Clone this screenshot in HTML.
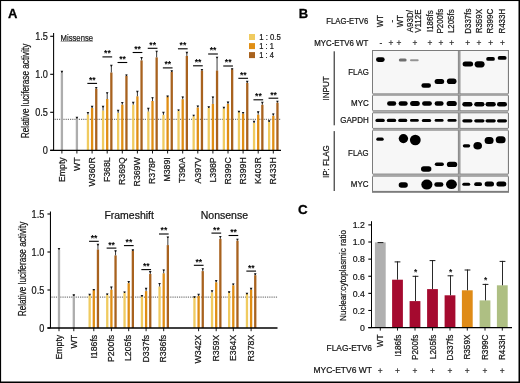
<!DOCTYPE html>
<html><head><meta charset="utf-8"><style>
html,body{margin:0;padding:0;background:#fff;}
svg{display:block;will-change:transform;}
text{font-family:"Liberation Sans", sans-serif;}
</style></head><body>
<svg width="520" height="383" viewBox="0 0 520 383">
<defs><filter id="bl" x="-30%" y="-60%" width="160%" height="220%"><feGaussianBlur stdDeviation="0.6"/></filter></defs>
<rect x="0" y="0" width="520" height="383" fill="#fff"/>
<text x="0" y="0" font-size="13.0" text-anchor="start" fill="#000" transform="translate(8.10 17.90)" font-weight="bold" stroke="#000" stroke-width="0.3">A</text>
<line x1="53.60" y1="33.10" x2="53.60" y2="150.30" stroke="#000" stroke-width="1.05"/>
<line x1="50.20" y1="36.30" x2="53.60" y2="36.30" stroke="#000" stroke-width="1.1"/>
<text x="0" y="0" font-size="10.4" text-anchor="end" fill="#141414" transform="translate(47.90 40.10) scale(0.880 1)" stroke="#141414" stroke-width="0.22">1.5</text>
<line x1="50.20" y1="74.30" x2="53.60" y2="74.30" stroke="#000" stroke-width="1.1"/>
<text x="0" y="0" font-size="10.4" text-anchor="end" fill="#141414" transform="translate(47.90 78.10) scale(0.880 1)" stroke="#141414" stroke-width="0.22">1.0</text>
<line x1="50.20" y1="112.30" x2="53.60" y2="112.30" stroke="#000" stroke-width="1.1"/>
<text x="0" y="0" font-size="10.4" text-anchor="end" fill="#141414" transform="translate(47.90 116.10) scale(0.880 1)" stroke="#141414" stroke-width="0.22">0.5</text>
<line x1="50.20" y1="150.30" x2="53.60" y2="150.30" stroke="#000" stroke-width="1.1"/>
<text x="0" y="0" font-size="10.4" text-anchor="end" fill="#141414" transform="translate(47.90 154.10) scale(0.880 1)" stroke="#141414" stroke-width="0.22">0</text>
<line x1="54.60" y1="119.30" x2="281.00" y2="119.30" stroke="#222" stroke-width="0.75" stroke-dasharray="1.2 1.0"/>
<rect x="60.75" y="73.00" width="2.30" height="77.30" fill="#ADADAD"/>
<line x1="61.90" y1="71.00" x2="61.90" y2="73.00" stroke="#3a3a3a" stroke-width="1.0"/>
<path d="M60.60 70.80 L63.20 70.80 L62.40 72.40 L61.40 72.40Z" fill="#151515"/>
<rect x="75.75" y="118.50" width="2.30" height="31.80" fill="#ADADAD"/>
<line x1="76.90" y1="117.00" x2="76.90" y2="118.50" stroke="#3a3a3a" stroke-width="1.0"/>
<path d="M75.60 116.80 L78.20 116.80 L77.40 118.40 L76.40 118.40Z" fill="#151515"/>
<rect x="86.80" y="114.70" width="2.30" height="35.60" fill="#F0CB60"/>
<line x1="87.95" y1="112.20" x2="87.95" y2="114.70" stroke="#3a3a3a" stroke-width="1.0"/>
<path d="M86.65 112.00 L89.25 112.00 L88.45 113.60 L87.45 113.60Z" fill="#151515"/>
<rect x="90.95" y="108.00" width="2.30" height="42.30" fill="#E08E14"/>
<line x1="92.10" y1="106.00" x2="92.10" y2="108.00" stroke="#3a3a3a" stroke-width="1.0"/>
<path d="M90.80 105.80 L93.40 105.80 L92.60 107.40 L91.60 107.40Z" fill="#151515"/>
<rect x="95.10" y="88.60" width="2.30" height="61.70" fill="#A8621E"/>
<line x1="96.25" y1="87.20" x2="96.25" y2="88.60" stroke="#3a3a3a" stroke-width="1.0"/>
<path d="M94.95 87.00 L97.55 87.00 L96.75 88.60 L95.75 88.60Z" fill="#151515"/>
<line x1="87.35" y1="83.40" x2="97.05" y2="83.40" stroke="#000" stroke-width="1.1"/>
<text x="0" y="0" font-size="8.6" text-anchor="middle" fill="#000" transform="translate(92.30 82.80)" font-weight="bold">**</text>
<rect x="101.90" y="110.50" width="2.30" height="39.80" fill="#F0CB60"/>
<line x1="103.05" y1="106.00" x2="103.05" y2="110.50" stroke="#3a3a3a" stroke-width="1.0"/>
<path d="M101.75 105.80 L104.35 105.80 L103.55 107.40 L102.55 107.40Z" fill="#151515"/>
<rect x="106.05" y="99.00" width="2.30" height="51.30" fill="#E08E14"/>
<line x1="107.20" y1="92.40" x2="107.20" y2="99.00" stroke="#3a3a3a" stroke-width="1.0"/>
<path d="M105.90 92.20 L108.50 92.20 L107.70 93.80 L106.70 93.80Z" fill="#151515"/>
<rect x="110.20" y="72.50" width="2.30" height="77.80" fill="#A8621E"/>
<line x1="111.35" y1="65.00" x2="111.35" y2="72.50" stroke="#3a3a3a" stroke-width="1.0"/>
<path d="M110.05 64.80 L112.65 64.80 L111.85 66.40 L110.85 66.40Z" fill="#151515"/>
<line x1="102.45" y1="56.90" x2="112.15" y2="56.90" stroke="#000" stroke-width="1.1"/>
<text x="0" y="0" font-size="8.6" text-anchor="middle" fill="#000" transform="translate(107.40 56.30)" font-weight="bold">**</text>
<rect x="117.00" y="113.00" width="2.30" height="37.30" fill="#F0CB60"/>
<line x1="118.15" y1="110.00" x2="118.15" y2="113.00" stroke="#3a3a3a" stroke-width="1.0"/>
<path d="M116.85 109.80 L119.45 109.80 L118.65 111.40 L117.65 111.40Z" fill="#151515"/>
<rect x="121.15" y="104.70" width="2.30" height="45.60" fill="#E08E14"/>
<line x1="122.30" y1="102.20" x2="122.30" y2="104.70" stroke="#3a3a3a" stroke-width="1.0"/>
<path d="M121.00 102.00 L123.60 102.00 L122.80 103.60 L121.80 103.60Z" fill="#151515"/>
<rect x="125.30" y="76.00" width="2.30" height="74.30" fill="#A8621E"/>
<line x1="126.45" y1="74.60" x2="126.45" y2="76.00" stroke="#3a3a3a" stroke-width="1.0"/>
<path d="M125.15 74.40 L127.75 74.40 L126.95 76.00 L125.95 76.00Z" fill="#151515"/>
<line x1="117.55" y1="62.50" x2="127.25" y2="62.50" stroke="#000" stroke-width="1.1"/>
<text x="0" y="0" font-size="8.6" text-anchor="middle" fill="#000" transform="translate(122.50 61.90)" font-weight="bold">**</text>
<rect x="132.10" y="104.70" width="2.30" height="45.60" fill="#F0CB60"/>
<line x1="133.25" y1="102.00" x2="133.25" y2="104.70" stroke="#3a3a3a" stroke-width="1.0"/>
<path d="M131.95 101.80 L134.55 101.80 L133.75 103.40 L132.75 103.40Z" fill="#151515"/>
<rect x="136.25" y="96.30" width="2.30" height="54.00" fill="#E08E14"/>
<line x1="137.40" y1="91.00" x2="137.40" y2="96.30" stroke="#3a3a3a" stroke-width="1.0"/>
<path d="M136.10 90.80 L138.70 90.80 L137.90 92.40 L136.90 92.40Z" fill="#151515"/>
<rect x="140.40" y="60.40" width="2.30" height="89.90" fill="#A8621E"/>
<line x1="141.55" y1="57.30" x2="141.55" y2="60.40" stroke="#3a3a3a" stroke-width="1.0"/>
<path d="M140.25 57.10 L142.85 57.10 L142.05 58.70 L141.05 58.70Z" fill="#151515"/>
<line x1="132.65" y1="52.50" x2="142.35" y2="52.50" stroke="#000" stroke-width="1.1"/>
<text x="0" y="0" font-size="8.6" text-anchor="middle" fill="#000" transform="translate(137.60 51.90)" font-weight="bold">**</text>
<rect x="147.20" y="111.50" width="2.30" height="38.80" fill="#F0CB60"/>
<line x1="148.35" y1="108.00" x2="148.35" y2="111.50" stroke="#3a3a3a" stroke-width="1.0"/>
<path d="M147.05 107.80 L149.65 107.80 L148.85 109.40 L147.85 109.40Z" fill="#151515"/>
<rect x="151.35" y="101.00" width="2.30" height="49.30" fill="#E08E14"/>
<line x1="152.50" y1="97.40" x2="152.50" y2="101.00" stroke="#3a3a3a" stroke-width="1.0"/>
<path d="M151.20 97.20 L153.80 97.20 L153.00 98.80 L152.00 98.80Z" fill="#151515"/>
<rect x="155.50" y="57.40" width="2.30" height="92.90" fill="#A8621E"/>
<line x1="156.65" y1="50.90" x2="156.65" y2="57.40" stroke="#3a3a3a" stroke-width="1.0"/>
<path d="M155.35 50.70 L157.95 50.70 L157.15 52.30 L156.15 52.30Z" fill="#151515"/>
<line x1="147.75" y1="48.30" x2="157.45" y2="48.30" stroke="#000" stroke-width="1.1"/>
<text x="0" y="0" font-size="8.6" text-anchor="middle" fill="#000" transform="translate(152.70 47.70)" font-weight="bold">**</text>
<rect x="162.30" y="114.90" width="2.30" height="35.40" fill="#F0CB60"/>
<line x1="163.45" y1="112.00" x2="163.45" y2="114.90" stroke="#3a3a3a" stroke-width="1.0"/>
<path d="M162.15 111.80 L164.75 111.80 L163.95 113.40 L162.95 113.40Z" fill="#151515"/>
<rect x="166.45" y="96.60" width="2.30" height="53.70" fill="#E08E14"/>
<line x1="167.60" y1="95.80" x2="167.60" y2="96.60" stroke="#3a3a3a" stroke-width="1.0"/>
<path d="M166.30 95.60 L168.90 95.60 L168.10 97.20 L167.10 97.20Z" fill="#151515"/>
<rect x="170.60" y="71.80" width="2.30" height="78.50" fill="#A8621E"/>
<line x1="171.75" y1="70.50" x2="171.75" y2="71.80" stroke="#3a3a3a" stroke-width="1.0"/>
<path d="M170.45 70.30 L173.05 70.30 L172.25 71.90 L171.25 71.90Z" fill="#151515"/>
<line x1="162.85" y1="67.90" x2="172.55" y2="67.90" stroke="#000" stroke-width="1.1"/>
<text x="0" y="0" font-size="8.6" text-anchor="middle" fill="#000" transform="translate(167.80 67.30)" font-weight="bold">**</text>
<rect x="177.40" y="111.00" width="2.30" height="39.30" fill="#F0CB60"/>
<line x1="178.55" y1="109.60" x2="178.55" y2="111.00" stroke="#3a3a3a" stroke-width="1.0"/>
<path d="M177.25 109.40 L179.85 109.40 L179.05 111.00 L178.05 111.00Z" fill="#151515"/>
<rect x="181.55" y="99.20" width="2.30" height="51.10" fill="#E08E14"/>
<line x1="182.70" y1="96.60" x2="182.70" y2="99.20" stroke="#3a3a3a" stroke-width="1.0"/>
<path d="M181.40 96.40 L184.00 96.40 L183.20 98.00 L182.20 98.00Z" fill="#151515"/>
<rect x="185.70" y="56.00" width="2.30" height="94.30" fill="#A8621E"/>
<line x1="186.85" y1="52.00" x2="186.85" y2="56.00" stroke="#3a3a3a" stroke-width="1.0"/>
<path d="M185.55 51.80 L188.15 51.80 L187.35 53.40 L186.35 53.40Z" fill="#151515"/>
<line x1="177.95" y1="48.80" x2="187.65" y2="48.80" stroke="#000" stroke-width="1.1"/>
<text x="0" y="0" font-size="8.6" text-anchor="middle" fill="#000" transform="translate(182.90 48.20)" font-weight="bold">**</text>
<rect x="192.50" y="116.20" width="2.30" height="34.10" fill="#F0CB60"/>
<line x1="193.65" y1="114.90" x2="193.65" y2="116.20" stroke="#3a3a3a" stroke-width="1.0"/>
<path d="M192.35 114.70 L194.95 114.70 L194.15 116.30 L193.15 116.30Z" fill="#151515"/>
<rect x="196.65" y="107.50" width="2.30" height="42.80" fill="#E08E14"/>
<line x1="197.80" y1="105.70" x2="197.80" y2="107.50" stroke="#3a3a3a" stroke-width="1.0"/>
<path d="M196.50 105.50 L199.10 105.50 L198.30 107.10 L197.30 107.10Z" fill="#151515"/>
<rect x="200.80" y="70.50" width="2.30" height="79.80" fill="#A8621E"/>
<line x1="201.95" y1="69.20" x2="201.95" y2="70.50" stroke="#3a3a3a" stroke-width="1.0"/>
<path d="M200.65 69.00 L203.25 69.00 L202.45 70.60 L201.45 70.60Z" fill="#151515"/>
<line x1="193.05" y1="65.80" x2="202.75" y2="65.80" stroke="#000" stroke-width="1.1"/>
<text x="0" y="0" font-size="8.6" text-anchor="middle" fill="#000" transform="translate(198.00 65.20)" font-weight="bold">**</text>
<rect x="207.60" y="107.80" width="2.30" height="42.50" fill="#F0CB60"/>
<line x1="208.75" y1="106.50" x2="208.75" y2="107.80" stroke="#3a3a3a" stroke-width="1.0"/>
<path d="M207.45 106.30 L210.05 106.30 L209.25 107.90 L208.25 107.90Z" fill="#151515"/>
<rect x="211.75" y="103.90" width="2.30" height="46.40" fill="#E08E14"/>
<line x1="212.90" y1="96.60" x2="212.90" y2="103.90" stroke="#3a3a3a" stroke-width="1.0"/>
<path d="M211.60 96.40 L214.20 96.40 L213.40 98.00 L212.40 98.00Z" fill="#151515"/>
<rect x="215.90" y="70.50" width="2.30" height="79.80" fill="#A8621E"/>
<line x1="217.05" y1="56.90" x2="217.05" y2="70.50" stroke="#3a3a3a" stroke-width="1.0"/>
<path d="M215.75 56.70 L218.35 56.70 L217.55 58.30 L216.55 58.30Z" fill="#151515"/>
<line x1="208.15" y1="54.00" x2="217.85" y2="54.00" stroke="#000" stroke-width="1.1"/>
<text x="0" y="0" font-size="8.6" text-anchor="middle" fill="#000" transform="translate(213.10 53.40)" font-weight="bold">**</text>
<rect x="222.70" y="108.30" width="2.30" height="42.00" fill="#F0CB60"/>
<line x1="223.85" y1="107.00" x2="223.85" y2="108.30" stroke="#3a3a3a" stroke-width="1.0"/>
<path d="M222.55 106.80 L225.15 106.80 L224.35 108.40 L223.35 108.40Z" fill="#151515"/>
<rect x="226.85" y="103.90" width="2.30" height="46.40" fill="#E08E14"/>
<line x1="228.00" y1="101.80" x2="228.00" y2="103.90" stroke="#3a3a3a" stroke-width="1.0"/>
<path d="M226.70 101.60 L229.30 101.60 L228.50 103.20 L227.50 103.20Z" fill="#151515"/>
<rect x="231.00" y="69.20" width="2.30" height="81.10" fill="#A8621E"/>
<line x1="232.15" y1="68.40" x2="232.15" y2="69.20" stroke="#3a3a3a" stroke-width="1.0"/>
<path d="M230.85 68.20 L233.45 68.20 L232.65 69.80 L231.65 69.80Z" fill="#151515"/>
<line x1="223.25" y1="66.00" x2="232.95" y2="66.00" stroke="#000" stroke-width="1.1"/>
<text x="0" y="0" font-size="8.6" text-anchor="middle" fill="#000" transform="translate(228.20 65.40)" font-weight="bold">**</text>
<rect x="237.80" y="112.20" width="2.30" height="38.10" fill="#F0CB60"/>
<line x1="238.95" y1="111.00" x2="238.95" y2="112.20" stroke="#3a3a3a" stroke-width="1.0"/>
<path d="M237.65 110.80 L240.25 110.80 L239.45 112.40 L238.45 112.40Z" fill="#151515"/>
<rect x="241.95" y="113.60" width="2.30" height="36.70" fill="#E08E14"/>
<line x1="243.10" y1="112.20" x2="243.10" y2="113.60" stroke="#3a3a3a" stroke-width="1.0"/>
<path d="M241.80 112.00 L244.40 112.00 L243.60 113.60 L242.60 113.60Z" fill="#151515"/>
<rect x="246.10" y="82.90" width="2.30" height="67.40" fill="#A8621E"/>
<line x1="247.25" y1="81.00" x2="247.25" y2="82.90" stroke="#3a3a3a" stroke-width="1.0"/>
<path d="M245.95 80.80 L248.55 80.80 L247.75 82.40 L246.75 82.40Z" fill="#151515"/>
<line x1="238.35" y1="78.30" x2="248.05" y2="78.30" stroke="#000" stroke-width="1.1"/>
<text x="0" y="0" font-size="8.6" text-anchor="middle" fill="#000" transform="translate(243.30 77.70)" font-weight="bold">**</text>
<rect x="252.90" y="123.00" width="2.30" height="27.30" fill="#F0CB60"/>
<line x1="254.05" y1="121.00" x2="254.05" y2="123.00" stroke="#3a3a3a" stroke-width="1.0"/>
<path d="M252.75 120.80 L255.35 120.80 L254.55 122.40 L253.55 122.40Z" fill="#151515"/>
<rect x="257.05" y="114.70" width="2.30" height="35.60" fill="#E08E14"/>
<line x1="258.20" y1="111.50" x2="258.20" y2="114.70" stroke="#3a3a3a" stroke-width="1.0"/>
<path d="M256.90 111.30 L259.50 111.30 L258.70 112.90 L257.70 112.90Z" fill="#151515"/>
<rect x="261.20" y="104.80" width="2.30" height="45.50" fill="#A8621E"/>
<line x1="262.35" y1="102.00" x2="262.35" y2="104.80" stroke="#3a3a3a" stroke-width="1.0"/>
<path d="M261.05 101.80 L263.65 101.80 L262.85 103.40 L261.85 103.40Z" fill="#151515"/>
<line x1="253.45" y1="99.80" x2="263.15" y2="99.80" stroke="#000" stroke-width="1.1"/>
<text x="0" y="0" font-size="8.6" text-anchor="middle" fill="#000" transform="translate(258.40 99.20)" font-weight="bold">**</text>
<rect x="268.00" y="121.70" width="2.30" height="28.60" fill="#F0CB60"/>
<line x1="269.15" y1="120.50" x2="269.15" y2="121.70" stroke="#3a3a3a" stroke-width="1.0"/>
<path d="M267.85 120.30 L270.45 120.30 L269.65 121.90 L268.65 121.90Z" fill="#151515"/>
<rect x="272.15" y="115.80" width="2.30" height="34.50" fill="#E08E14"/>
<line x1="273.30" y1="113.60" x2="273.30" y2="115.80" stroke="#3a3a3a" stroke-width="1.0"/>
<path d="M272.00 113.40 L274.60 113.40 L273.80 115.00 L272.80 115.00Z" fill="#151515"/>
<rect x="276.30" y="102.60" width="2.30" height="47.70" fill="#A8621E"/>
<line x1="277.45" y1="100.90" x2="277.45" y2="102.60" stroke="#3a3a3a" stroke-width="1.0"/>
<path d="M276.15 100.70 L278.75 100.70 L277.95 102.30 L276.95 102.30Z" fill="#151515"/>
<line x1="268.55" y1="98.20" x2="278.25" y2="98.20" stroke="#000" stroke-width="1.1"/>
<text x="0" y="0" font-size="8.6" text-anchor="middle" fill="#000" transform="translate(273.50 97.60)" font-weight="bold">**</text>
<line x1="50.20" y1="150.30" x2="281.00" y2="150.30" stroke="#000" stroke-width="1.35"/>
<line x1="61.90" y1="150.30" x2="61.90" y2="153.50" stroke="#000" stroke-width="0.9"/>
<line x1="76.90" y1="150.30" x2="76.90" y2="153.50" stroke="#000" stroke-width="0.9"/>
<line x1="92.10" y1="150.30" x2="92.10" y2="153.50" stroke="#000" stroke-width="0.9"/>
<line x1="107.20" y1="150.30" x2="107.20" y2="153.50" stroke="#000" stroke-width="0.9"/>
<line x1="122.30" y1="150.30" x2="122.30" y2="153.50" stroke="#000" stroke-width="0.9"/>
<line x1="137.40" y1="150.30" x2="137.40" y2="153.50" stroke="#000" stroke-width="0.9"/>
<line x1="152.50" y1="150.30" x2="152.50" y2="153.50" stroke="#000" stroke-width="0.9"/>
<line x1="167.60" y1="150.30" x2="167.60" y2="153.50" stroke="#000" stroke-width="0.9"/>
<line x1="182.70" y1="150.30" x2="182.70" y2="153.50" stroke="#000" stroke-width="0.9"/>
<line x1="197.80" y1="150.30" x2="197.80" y2="153.50" stroke="#000" stroke-width="0.9"/>
<line x1="212.90" y1="150.30" x2="212.90" y2="153.50" stroke="#000" stroke-width="0.9"/>
<line x1="228.00" y1="150.30" x2="228.00" y2="153.50" stroke="#000" stroke-width="0.9"/>
<line x1="243.10" y1="150.30" x2="243.10" y2="153.50" stroke="#000" stroke-width="0.9"/>
<line x1="258.20" y1="150.30" x2="258.20" y2="153.50" stroke="#000" stroke-width="0.9"/>
<line x1="273.30" y1="150.30" x2="273.30" y2="153.50" stroke="#000" stroke-width="0.9"/>
<text x="0" y="0" font-size="9.2" text-anchor="end" fill="#141414" transform="translate(64.65 157.30) rotate(-90) scale(0.950 1)" stroke="#141414" stroke-width="0.22">Empty</text>
<text x="0" y="0" font-size="9.2" text-anchor="end" fill="#141414" transform="translate(79.65 157.30) rotate(-90) scale(0.950 1)" stroke="#141414" stroke-width="0.22">WT</text>
<text x="0" y="0" font-size="9.2" text-anchor="end" fill="#141414" transform="translate(94.85 157.30) rotate(-90) scale(0.950 1)" stroke="#141414" stroke-width="0.22">W360R</text>
<text x="0" y="0" font-size="9.2" text-anchor="end" fill="#141414" transform="translate(109.95 157.30) rotate(-90) scale(0.950 1)" stroke="#141414" stroke-width="0.22">F368L</text>
<text x="0" y="0" font-size="9.2" text-anchor="end" fill="#141414" transform="translate(125.05 157.30) rotate(-90) scale(0.950 1)" stroke="#141414" stroke-width="0.22">R369Q</text>
<text x="0" y="0" font-size="9.2" text-anchor="end" fill="#141414" transform="translate(140.15 157.30) rotate(-90) scale(0.950 1)" stroke="#141414" stroke-width="0.22">R369W</text>
<text x="0" y="0" font-size="9.2" text-anchor="end" fill="#141414" transform="translate(155.25 157.30) rotate(-90) scale(0.950 1)" stroke="#141414" stroke-width="0.22">R378P</text>
<text x="0" y="0" font-size="9.2" text-anchor="end" fill="#141414" transform="translate(170.35 157.30) rotate(-90) scale(0.950 1)" stroke="#141414" stroke-width="0.22">M389I</text>
<text x="0" y="0" font-size="9.2" text-anchor="end" fill="#141414" transform="translate(185.45 157.30) rotate(-90) scale(0.950 1)" stroke="#141414" stroke-width="0.22">T390A</text>
<text x="0" y="0" font-size="9.2" text-anchor="end" fill="#141414" transform="translate(200.55 157.30) rotate(-90) scale(0.950 1)" stroke="#141414" stroke-width="0.22">A397V</text>
<text x="0" y="0" font-size="9.2" text-anchor="end" fill="#141414" transform="translate(215.65 157.30) rotate(-90) scale(0.950 1)" stroke="#141414" stroke-width="0.22">L398P</text>
<text x="0" y="0" font-size="9.2" text-anchor="end" fill="#141414" transform="translate(230.75 157.30) rotate(-90) scale(0.950 1)" stroke="#141414" stroke-width="0.22">R399C</text>
<text x="0" y="0" font-size="9.2" text-anchor="end" fill="#141414" transform="translate(245.85 157.30) rotate(-90) scale(0.950 1)" stroke="#141414" stroke-width="0.22">R399H</text>
<text x="0" y="0" font-size="9.2" text-anchor="end" fill="#141414" transform="translate(260.95 157.30) rotate(-90) scale(0.950 1)" stroke="#141414" stroke-width="0.22">K403R</text>
<text x="0" y="0" font-size="9.2" text-anchor="end" fill="#141414" transform="translate(276.05 157.30) rotate(-90) scale(0.950 1)" stroke="#141414" stroke-width="0.22">R433H</text>
<text x="0" y="0" font-size="10.4" text-anchor="middle" fill="#141414" transform="translate(28.80 90.90) rotate(-90)" stroke="#141414" stroke-width="0.22" textLength="94.50" lengthAdjust="spacingAndGlyphs">Relative luciferase activity</text>
<text x="0" y="0" font-size="9.4" text-anchor="start" fill="#141414" transform="translate(60.60 40.80)" stroke="#141414" stroke-width="0.22" textLength="32.40" lengthAdjust="spacingAndGlyphs">Missense</text>
<line x1="60.60" y1="41.50" x2="93.00" y2="41.50" stroke="#777" stroke-width="0.6"/>
<rect x="249.00" y="34.00" width="6.00" height="6.00" fill="#F0CB60"/>
<text x="0" y="0" font-size="8.6" text-anchor="start" fill="#141414" transform="translate(259.30 39.80)" stroke="#141414" stroke-width="0.22" textLength="21.50" lengthAdjust="spacingAndGlyphs">1 : 0.5</text>
<rect x="249.00" y="43.10" width="6.00" height="6.00" fill="#E08E14"/>
<text x="0" y="0" font-size="8.6" text-anchor="start" fill="#141414" transform="translate(259.30 48.80)" stroke="#141414" stroke-width="0.22" textLength="14.50" lengthAdjust="spacingAndGlyphs">1 : 1</text>
<rect x="249.00" y="52.10" width="6.00" height="6.00" fill="#A8621E"/>
<text x="0" y="0" font-size="8.6" text-anchor="start" fill="#141414" transform="translate(259.30 57.80)" stroke="#141414" stroke-width="0.22" textLength="14.50" lengthAdjust="spacingAndGlyphs">1 : 4</text>
<line x1="50.45" y1="211.50" x2="50.45" y2="328.00" stroke="#000" stroke-width="1.05"/>
<line x1="47.45" y1="214.00" x2="50.45" y2="214.00" stroke="#000" stroke-width="1.1"/>
<text x="0" y="0" font-size="10.4" text-anchor="end" fill="#141414" transform="translate(44.30 217.80) scale(0.880 1)" stroke="#141414" stroke-width="0.22">1.5</text>
<line x1="47.45" y1="252.00" x2="50.45" y2="252.00" stroke="#000" stroke-width="1.1"/>
<text x="0" y="0" font-size="10.4" text-anchor="end" fill="#141414" transform="translate(44.30 255.80) scale(0.880 1)" stroke="#141414" stroke-width="0.22">1.0</text>
<line x1="47.45" y1="290.00" x2="50.45" y2="290.00" stroke="#000" stroke-width="1.1"/>
<text x="0" y="0" font-size="10.4" text-anchor="end" fill="#141414" transform="translate(44.30 293.80) scale(0.880 1)" stroke="#141414" stroke-width="0.22">0.5</text>
<line x1="47.45" y1="328.00" x2="50.45" y2="328.00" stroke="#000" stroke-width="1.1"/>
<text x="0" y="0" font-size="10.4" text-anchor="end" fill="#141414" transform="translate(44.30 331.80) scale(0.880 1)" stroke="#141414" stroke-width="0.22">0</text>
<line x1="51.45" y1="297.10" x2="277.50" y2="297.10" stroke="#222" stroke-width="0.75" stroke-dasharray="1.2 1.0"/>
<rect x="57.85" y="250.00" width="2.30" height="78.00" fill="#ADADAD"/>
<line x1="59.00" y1="248.10" x2="59.00" y2="250.00" stroke="#3a3a3a" stroke-width="1.0"/>
<path d="M57.70 247.90 L60.30 247.90 L59.50 249.50 L58.50 249.50Z" fill="#151515"/>
<rect x="72.65" y="295.00" width="2.30" height="33.00" fill="#ADADAD"/>
<line x1="73.80" y1="294.50" x2="73.80" y2="295.00" stroke="#3a3a3a" stroke-width="1.0"/>
<path d="M72.50 294.30 L75.10 294.30 L74.30 295.90 L73.30 295.90Z" fill="#151515"/>
<rect x="88.50" y="295.20" width="2.30" height="32.80" fill="#F0CB60"/>
<line x1="89.65" y1="294.00" x2="89.65" y2="295.20" stroke="#3a3a3a" stroke-width="1.0"/>
<path d="M88.35 293.80 L90.95 293.80 L90.15 295.40 L89.15 295.40Z" fill="#151515"/>
<rect x="92.65" y="289.70" width="2.30" height="38.30" fill="#E08E14"/>
<line x1="93.80" y1="289.10" x2="93.80" y2="289.70" stroke="#3a3a3a" stroke-width="1.0"/>
<path d="M92.50 288.90 L95.10 288.90 L94.30 290.50 L93.30 290.50Z" fill="#151515"/>
<rect x="96.80" y="249.50" width="2.30" height="78.50" fill="#A8621E"/>
<line x1="97.95" y1="244.00" x2="97.95" y2="249.50" stroke="#3a3a3a" stroke-width="1.0"/>
<path d="M96.65 243.80 L99.25 243.80 L98.45 245.40 L97.45 245.40Z" fill="#151515"/>
<line x1="89.05" y1="241.30" x2="98.75" y2="241.30" stroke="#000" stroke-width="1.1"/>
<text x="0" y="0" font-size="8.6" text-anchor="middle" fill="#000" transform="translate(94.00 240.70)" font-weight="bold">**</text>
<rect x="106.10" y="295.00" width="2.30" height="33.00" fill="#F0CB60"/>
<line x1="107.25" y1="293.60" x2="107.25" y2="295.00" stroke="#3a3a3a" stroke-width="1.0"/>
<path d="M105.95 293.40 L108.55 293.40 L107.75 295.00 L106.75 295.00Z" fill="#151515"/>
<rect x="110.25" y="289.70" width="2.30" height="38.30" fill="#E08E14"/>
<line x1="111.40" y1="286.80" x2="111.40" y2="289.70" stroke="#3a3a3a" stroke-width="1.0"/>
<path d="M110.10 286.60 L112.70 286.60 L111.90 288.20 L110.90 288.20Z" fill="#151515"/>
<rect x="114.40" y="255.40" width="2.30" height="72.60" fill="#A8621E"/>
<line x1="115.55" y1="250.50" x2="115.55" y2="255.40" stroke="#3a3a3a" stroke-width="1.0"/>
<path d="M114.25 250.30 L116.85 250.30 L116.05 251.90 L115.05 251.90Z" fill="#151515"/>
<line x1="106.65" y1="248.10" x2="116.35" y2="248.10" stroke="#000" stroke-width="1.1"/>
<text x="0" y="0" font-size="8.6" text-anchor="middle" fill="#000" transform="translate(111.60 247.50)" font-weight="bold">**</text>
<rect x="123.40" y="292.60" width="2.30" height="35.40" fill="#F0CB60"/>
<line x1="124.55" y1="291.70" x2="124.55" y2="292.60" stroke="#3a3a3a" stroke-width="1.0"/>
<path d="M123.25 291.50 L125.85 291.50 L125.05 293.10 L124.05 293.10Z" fill="#151515"/>
<rect x="127.55" y="283.20" width="2.30" height="44.80" fill="#E08E14"/>
<line x1="128.70" y1="281.30" x2="128.70" y2="283.20" stroke="#3a3a3a" stroke-width="1.0"/>
<path d="M127.40 281.10 L130.00 281.10 L129.20 282.70 L128.20 282.70Z" fill="#151515"/>
<rect x="131.70" y="250.50" width="2.30" height="77.50" fill="#A8621E"/>
<line x1="132.85" y1="249.50" x2="132.85" y2="250.50" stroke="#3a3a3a" stroke-width="1.0"/>
<path d="M131.55 249.30 L134.15 249.30 L133.35 250.90 L132.35 250.90Z" fill="#151515"/>
<line x1="123.95" y1="245.60" x2="133.65" y2="245.60" stroke="#000" stroke-width="1.1"/>
<text x="0" y="0" font-size="8.6" text-anchor="middle" fill="#000" transform="translate(128.90 245.00)" font-weight="bold">**</text>
<rect x="140.80" y="296.40" width="2.30" height="31.60" fill="#F0CB60"/>
<line x1="141.95" y1="295.30" x2="141.95" y2="296.40" stroke="#3a3a3a" stroke-width="1.0"/>
<path d="M140.65 295.10 L143.25 295.10 L142.45 296.70 L141.45 296.70Z" fill="#151515"/>
<rect x="144.95" y="291.10" width="2.30" height="36.90" fill="#E08E14"/>
<line x1="146.10" y1="288.00" x2="146.10" y2="291.10" stroke="#3a3a3a" stroke-width="1.0"/>
<path d="M144.80 287.80 L147.40 287.80 L146.60 289.40 L145.60 289.40Z" fill="#151515"/>
<rect x="149.10" y="274.00" width="2.30" height="54.00" fill="#A8621E"/>
<line x1="150.25" y1="271.30" x2="150.25" y2="274.00" stroke="#3a3a3a" stroke-width="1.0"/>
<path d="M148.95 271.10 L151.55 271.10 L150.75 272.70 L149.75 272.70Z" fill="#151515"/>
<line x1="141.35" y1="269.60" x2="151.05" y2="269.60" stroke="#000" stroke-width="1.1"/>
<text x="0" y="0" font-size="8.6" text-anchor="middle" fill="#000" transform="translate(146.30 269.00)" font-weight="bold">**</text>
<rect x="158.40" y="286.50" width="2.30" height="41.50" fill="#F0CB60"/>
<line x1="159.55" y1="283.20" x2="159.55" y2="286.50" stroke="#3a3a3a" stroke-width="1.0"/>
<path d="M158.25 283.00 L160.85 283.00 L160.05 284.60 L159.05 284.60Z" fill="#151515"/>
<rect x="162.55" y="273.30" width="2.30" height="54.70" fill="#E08E14"/>
<line x1="163.70" y1="269.60" x2="163.70" y2="273.30" stroke="#3a3a3a" stroke-width="1.0"/>
<path d="M162.40 269.40 L165.00 269.40 L164.20 271.00 L163.20 271.00Z" fill="#151515"/>
<rect x="166.70" y="245.10" width="2.30" height="82.90" fill="#A8621E"/>
<line x1="167.85" y1="236.70" x2="167.85" y2="245.10" stroke="#3a3a3a" stroke-width="1.0"/>
<path d="M166.55 236.50 L169.15 236.50 L168.35 238.10 L167.35 238.10Z" fill="#151515"/>
<line x1="158.95" y1="234.00" x2="168.65" y2="234.00" stroke="#000" stroke-width="1.1"/>
<text x="0" y="0" font-size="8.6" text-anchor="middle" fill="#000" transform="translate(163.90 233.40)" font-weight="bold">**</text>
<rect x="193.30" y="297.20" width="2.30" height="30.80" fill="#F0CB60"/>
<line x1="194.45" y1="296.50" x2="194.45" y2="297.20" stroke="#3a3a3a" stroke-width="1.0"/>
<path d="M193.15 296.30 L195.75 296.30 L194.95 297.90 L193.95 297.90Z" fill="#151515"/>
<rect x="197.45" y="295.80" width="2.30" height="32.20" fill="#E08E14"/>
<line x1="198.60" y1="294.00" x2="198.60" y2="295.80" stroke="#3a3a3a" stroke-width="1.0"/>
<path d="M197.30 293.80 L199.90 293.80 L199.10 295.40 L198.10 295.40Z" fill="#151515"/>
<rect x="201.60" y="271.10" width="2.30" height="56.90" fill="#A8621E"/>
<line x1="202.75" y1="268.40" x2="202.75" y2="271.10" stroke="#3a3a3a" stroke-width="1.0"/>
<path d="M201.45 268.20 L204.05 268.20 L203.25 269.80 L202.25 269.80Z" fill="#151515"/>
<line x1="193.85" y1="265.30" x2="203.55" y2="265.30" stroke="#000" stroke-width="1.1"/>
<text x="0" y="0" font-size="8.6" text-anchor="middle" fill="#000" transform="translate(198.80 264.70)" font-weight="bold">**</text>
<rect x="210.90" y="292.50" width="2.30" height="35.50" fill="#F0CB60"/>
<line x1="212.05" y1="290.40" x2="212.05" y2="292.50" stroke="#3a3a3a" stroke-width="1.0"/>
<path d="M210.75 290.20 L213.35 290.20 L212.55 291.80 L211.55 291.80Z" fill="#151515"/>
<rect x="215.05" y="282.30" width="2.30" height="45.70" fill="#E08E14"/>
<line x1="216.20" y1="280.30" x2="216.20" y2="282.30" stroke="#3a3a3a" stroke-width="1.0"/>
<path d="M214.90 280.10 L217.50 280.10 L216.70 281.70 L215.70 281.70Z" fill="#151515"/>
<rect x="219.20" y="238.90" width="2.30" height="89.10" fill="#A8621E"/>
<line x1="220.35" y1="236.20" x2="220.35" y2="238.90" stroke="#3a3a3a" stroke-width="1.0"/>
<path d="M219.05 236.00 L221.65 236.00 L220.85 237.60 L219.85 237.60Z" fill="#151515"/>
<line x1="211.45" y1="233.10" x2="221.15" y2="233.10" stroke="#000" stroke-width="1.1"/>
<text x="0" y="0" font-size="8.6" text-anchor="middle" fill="#000" transform="translate(216.40 232.50)" font-weight="bold">**</text>
<rect x="228.00" y="292.50" width="2.30" height="35.50" fill="#F0CB60"/>
<line x1="229.15" y1="291.50" x2="229.15" y2="292.50" stroke="#3a3a3a" stroke-width="1.0"/>
<path d="M227.85 291.30 L230.45 291.30 L229.65 292.90 L228.65 292.90Z" fill="#151515"/>
<rect x="232.15" y="285.30" width="2.30" height="42.70" fill="#E08E14"/>
<line x1="233.30" y1="283.60" x2="233.30" y2="285.30" stroke="#3a3a3a" stroke-width="1.0"/>
<path d="M232.00 283.40 L234.60 283.40 L233.80 285.00 L232.80 285.00Z" fill="#151515"/>
<rect x="236.30" y="240.60" width="2.30" height="87.40" fill="#A8621E"/>
<line x1="237.45" y1="238.90" x2="237.45" y2="240.60" stroke="#3a3a3a" stroke-width="1.0"/>
<path d="M236.15 238.70 L238.75 238.70 L237.95 240.30 L236.95 240.30Z" fill="#151515"/>
<line x1="228.55" y1="235.50" x2="238.25" y2="235.50" stroke="#000" stroke-width="1.1"/>
<text x="0" y="0" font-size="8.6" text-anchor="middle" fill="#000" transform="translate(233.50 234.90)" font-weight="bold">**</text>
<rect x="245.80" y="293.80" width="2.30" height="34.20" fill="#F0CB60"/>
<line x1="246.95" y1="293.00" x2="246.95" y2="293.80" stroke="#3a3a3a" stroke-width="1.0"/>
<path d="M245.65 292.80 L248.25 292.80 L247.45 294.40 L246.45 294.40Z" fill="#151515"/>
<rect x="249.95" y="289.70" width="2.30" height="38.30" fill="#E08E14"/>
<line x1="251.10" y1="288.00" x2="251.10" y2="289.70" stroke="#3a3a3a" stroke-width="1.0"/>
<path d="M249.80 287.80 L252.40 287.80 L251.60 289.40 L250.60 289.40Z" fill="#151515"/>
<rect x="254.10" y="275.20" width="2.30" height="52.80" fill="#A8621E"/>
<line x1="255.25" y1="273.50" x2="255.25" y2="275.20" stroke="#3a3a3a" stroke-width="1.0"/>
<path d="M253.95 273.30 L256.55 273.30 L255.75 274.90 L254.75 274.90Z" fill="#151515"/>
<line x1="246.35" y1="271.10" x2="256.05" y2="271.10" stroke="#000" stroke-width="1.1"/>
<text x="0" y="0" font-size="8.6" text-anchor="middle" fill="#000" transform="translate(251.30 270.50)" font-weight="bold">**</text>
<line x1="47.45" y1="328.00" x2="277.50" y2="328.00" stroke="#000" stroke-width="1.35"/>
<line x1="59.00" y1="328.00" x2="59.00" y2="331.20" stroke="#000" stroke-width="0.9"/>
<line x1="73.80" y1="328.00" x2="73.80" y2="331.20" stroke="#000" stroke-width="0.9"/>
<line x1="93.80" y1="328.00" x2="93.80" y2="331.20" stroke="#000" stroke-width="0.9"/>
<line x1="111.40" y1="328.00" x2="111.40" y2="331.20" stroke="#000" stroke-width="0.9"/>
<line x1="128.70" y1="328.00" x2="128.70" y2="331.20" stroke="#000" stroke-width="0.9"/>
<line x1="146.10" y1="328.00" x2="146.10" y2="331.20" stroke="#000" stroke-width="0.9"/>
<line x1="163.70" y1="328.00" x2="163.70" y2="331.20" stroke="#000" stroke-width="0.9"/>
<line x1="198.60" y1="328.00" x2="198.60" y2="331.20" stroke="#000" stroke-width="0.9"/>
<line x1="216.20" y1="328.00" x2="216.20" y2="331.20" stroke="#000" stroke-width="0.9"/>
<line x1="233.30" y1="328.00" x2="233.30" y2="331.20" stroke="#000" stroke-width="0.9"/>
<line x1="251.10" y1="328.00" x2="251.10" y2="331.20" stroke="#000" stroke-width="0.9"/>
<text x="0" y="0" font-size="9.2" text-anchor="end" fill="#141414" transform="translate(61.75 334.80) rotate(-90) scale(0.950 1)" stroke="#141414" stroke-width="0.22">Empty</text>
<text x="0" y="0" font-size="9.2" text-anchor="end" fill="#141414" transform="translate(76.55 334.80) rotate(-90) scale(0.950 1)" stroke="#141414" stroke-width="0.22">WT</text>
<text x="0" y="0" font-size="9.2" text-anchor="end" fill="#141414" transform="translate(96.55 334.80) rotate(-90) scale(0.950 1)" stroke="#141414" stroke-width="0.22">I186fs</text>
<text x="0" y="0" font-size="9.2" text-anchor="end" fill="#141414" transform="translate(114.15 334.80) rotate(-90) scale(0.950 1)" stroke="#141414" stroke-width="0.22">P200fs</text>
<text x="0" y="0" font-size="9.2" text-anchor="end" fill="#141414" transform="translate(131.45 334.80) rotate(-90) scale(0.950 1)" stroke="#141414" stroke-width="0.22">L205fs</text>
<text x="0" y="0" font-size="9.2" text-anchor="end" fill="#141414" transform="translate(148.85 334.80) rotate(-90) scale(0.950 1)" stroke="#141414" stroke-width="0.22">D337fs</text>
<text x="0" y="0" font-size="9.2" text-anchor="end" fill="#141414" transform="translate(166.45 334.80) rotate(-90) scale(0.950 1)" stroke="#141414" stroke-width="0.22">R386fs</text>
<text x="0" y="0" font-size="9.2" text-anchor="end" fill="#141414" transform="translate(201.35 334.80) rotate(-90) scale(0.950 1)" stroke="#141414" stroke-width="0.22">W342X</text>
<text x="0" y="0" font-size="9.2" text-anchor="end" fill="#141414" transform="translate(218.95 334.80) rotate(-90) scale(0.950 1)" stroke="#141414" stroke-width="0.22">R359X</text>
<text x="0" y="0" font-size="9.2" text-anchor="end" fill="#141414" transform="translate(236.05 334.80) rotate(-90) scale(0.950 1)" stroke="#141414" stroke-width="0.22">E364X</text>
<text x="0" y="0" font-size="9.2" text-anchor="end" fill="#141414" transform="translate(253.85 334.80) rotate(-90) scale(0.950 1)" stroke="#141414" stroke-width="0.22">R378X</text>
<text x="0" y="0" font-size="10.4" text-anchor="middle" fill="#141414" transform="translate(25.90 269.00) rotate(-90)" stroke="#141414" stroke-width="0.22" textLength="94.60" lengthAdjust="spacingAndGlyphs">Relative luciferase activity</text>
<text x="0" y="0" font-size="10.4" text-anchor="start" fill="#141414" transform="translate(104.40 218.60)" stroke="#141414" stroke-width="0.22" textLength="49.50" lengthAdjust="spacingAndGlyphs">Frameshift</text>
<text x="0" y="0" font-size="10.4" text-anchor="start" fill="#141414" transform="translate(200.70 218.60)" stroke="#141414" stroke-width="0.22" textLength="47.40" lengthAdjust="spacingAndGlyphs">Nonsense</text>
<text x="0" y="0" font-size="13.0" text-anchor="start" fill="#000" transform="translate(298.80 17.90)" font-weight="bold" stroke="#000" stroke-width="0.3">B</text>
<text x="0" y="0" font-size="8.2" text-anchor="end" fill="#141414" transform="translate(368.30 23.90)" stroke="#141414" stroke-width="0.22" textLength="42.00" lengthAdjust="spacingAndGlyphs">FLAG-ETV6</text>
<text x="0" y="0" font-size="8.2" text-anchor="end" fill="#141414" transform="translate(368.30 45.70)" stroke="#141414" stroke-width="0.22" textLength="54.10" lengthAdjust="spacingAndGlyphs">MYC-ETV6 WT</text>
<text x="0" y="0" font-size="8.2" text-anchor="middle" fill="#141414" transform="translate(382.90 21.20) rotate(-90) scale(0.970 1)" stroke="#141414" stroke-width="0.22">WT</text>
<text x="0" y="0" font-size="8.2" text-anchor="middle" fill="#141414" transform="translate(394.50 21.20) rotate(-90) scale(0.970 1)" stroke="#141414" stroke-width="0.22">-</text>
<text x="0" y="0" font-size="8.2" text-anchor="middle" fill="#141414" transform="translate(402.90 21.20) rotate(-90) scale(0.970 1)" stroke="#141414" stroke-width="0.22">WT</text>
<text x="0" y="0" font-size="8.2" text-anchor="middle" fill="#141414" transform="translate(412.70 21.20) rotate(-90) scale(0.970 1)" stroke="#141414" stroke-width="0.22">A93D/</text>
<text x="0" y="0" font-size="8.2" text-anchor="middle" fill="#141414" transform="translate(420.50 21.20) rotate(-90) scale(0.970 1)" stroke="#141414" stroke-width="0.22">V112E</text>
<text x="0" y="0" font-size="8.2" text-anchor="middle" fill="#141414" transform="translate(432.50 21.20) rotate(-90) scale(0.970 1)" stroke="#141414" stroke-width="0.22">I186fs</text>
<text x="0" y="0" font-size="8.2" text-anchor="middle" fill="#141414" transform="translate(443.10 21.20) rotate(-90) scale(0.970 1)" stroke="#141414" stroke-width="0.22">P200fs</text>
<text x="0" y="0" font-size="8.2" text-anchor="middle" fill="#141414" transform="translate(454.40 21.20) rotate(-90) scale(0.970 1)" stroke="#141414" stroke-width="0.22">L205fs</text>
<text x="0" y="0" font-size="8.2" text-anchor="middle" fill="#141414" transform="translate(470.50 21.20) rotate(-90) scale(0.970 1)" stroke="#141414" stroke-width="0.22">D337fs</text>
<text x="0" y="0" font-size="8.2" text-anchor="middle" fill="#141414" transform="translate(481.70 21.20) rotate(-90) scale(0.970 1)" stroke="#141414" stroke-width="0.22">R359X</text>
<text x="0" y="0" font-size="8.2" text-anchor="middle" fill="#141414" transform="translate(493.30 21.20) rotate(-90) scale(0.970 1)" stroke="#141414" stroke-width="0.22">R399C</text>
<text x="0" y="0" font-size="8.2" text-anchor="middle" fill="#141414" transform="translate(504.60 21.20) rotate(-90) scale(0.970 1)" stroke="#141414" stroke-width="0.22">R433H</text>
<text x="0" y="0" font-size="8.4" text-anchor="middle" fill="#222" transform="translate(381.00 46.30)" stroke="#222" stroke-width="0.15">-</text>
<text x="0" y="0" font-size="8.4" text-anchor="middle" fill="#222" transform="translate(390.90 46.30)" stroke="#222" stroke-width="0.15">+</text>
<text x="0" y="0" font-size="8.4" text-anchor="middle" fill="#222" transform="translate(399.00 46.30)" stroke="#222" stroke-width="0.15">+</text>
<text x="0" y="0" font-size="8.4" text-anchor="middle" fill="#222" transform="translate(415.00 46.30)" stroke="#222" stroke-width="0.15">+</text>
<text x="0" y="0" font-size="8.4" text-anchor="middle" fill="#222" transform="translate(430.00 46.30)" stroke="#222" stroke-width="0.15">+</text>
<text x="0" y="0" font-size="8.4" text-anchor="middle" fill="#222" transform="translate(440.90 46.30)" stroke="#222" stroke-width="0.15">+</text>
<text x="0" y="0" font-size="8.4" text-anchor="middle" fill="#222" transform="translate(451.70 46.30)" stroke="#222" stroke-width="0.15">+</text>
<text x="0" y="0" font-size="8.4" text-anchor="middle" fill="#222" transform="translate(467.60 46.30)" stroke="#222" stroke-width="0.15">+</text>
<text x="0" y="0" font-size="8.4" text-anchor="middle" fill="#222" transform="translate(479.00 46.30)" stroke="#222" stroke-width="0.15">+</text>
<text x="0" y="0" font-size="8.4" text-anchor="middle" fill="#222" transform="translate(490.80 46.30)" stroke="#222" stroke-width="0.15">+</text>
<text x="0" y="0" font-size="8.4" text-anchor="middle" fill="#222" transform="translate(502.50 46.30)" stroke="#222" stroke-width="0.15">+</text>
<rect x="372.00" y="50.00" width="137.00" height="142.80" fill="#7C7C7C"/>
<rect x="373.00" y="51.00" width="84.90" height="42.40" fill="#F7F7F7"/>
<rect x="460.40" y="51.00" width="47.50" height="42.40" fill="#F7F7F7"/>
<rect x="373.00" y="95.60" width="84.90" height="14.70" fill="#F7F7F7"/>
<rect x="460.40" y="95.60" width="47.50" height="14.70" fill="#F7F7F7"/>
<rect x="373.00" y="113.30" width="84.90" height="14.60" fill="#F7F7F7"/>
<rect x="460.40" y="113.30" width="47.50" height="14.60" fill="#F7F7F7"/>
<rect x="373.00" y="130.60" width="84.90" height="43.00" fill="#F7F7F7"/>
<rect x="460.40" y="130.60" width="47.50" height="43.00" fill="#F7F7F7"/>
<rect x="373.00" y="176.60" width="84.90" height="14.30" fill="#F7F7F7"/>
<rect x="460.40" y="176.60" width="47.50" height="14.30" fill="#F7F7F7"/>
<rect x="373.00" y="94.10" width="135.00" height="0.80" fill="#ABABAB"/>
<rect x="373.00" y="111.00" width="135.00" height="1.60" fill="#ABABAB"/>
<rect x="373.00" y="128.60" width="135.00" height="1.30" fill="#ABABAB"/>
<rect x="373.00" y="174.30" width="135.00" height="1.60" fill="#ABABAB"/>
<rect x="458.60" y="51.00" width="1.10" height="140.00" fill="#A8A8A8"/>
<rect x="371.80" y="93.60" width="1.00" height="1.80" fill="#FFFFFF"/>
<rect x="508.20" y="93.60" width="1.00" height="1.80" fill="#FFFFFF"/>
<rect x="371.80" y="110.50" width="1.00" height="2.60" fill="#FFFFFF"/>
<rect x="508.20" y="110.50" width="1.00" height="2.60" fill="#FFFFFF"/>
<rect x="371.80" y="128.10" width="1.00" height="2.30" fill="#FFFFFF"/>
<rect x="508.20" y="128.10" width="1.00" height="2.30" fill="#FFFFFF"/>
<rect x="371.80" y="173.80" width="1.00" height="2.60" fill="#FFFFFF"/>
<rect x="508.20" y="173.80" width="1.00" height="2.60" fill="#FFFFFF"/>
<rect x="376.00" y="57.30" width="8.70" height="4.60" rx="2.30" fill="#000" fill-opacity="1.0" filter="url(#bl)"/>
<rect x="398.80" y="58.40" width="7.80" height="3.00" rx="1.50" fill="#000" fill-opacity="0.55" filter="url(#bl)"/>
<rect x="410.00" y="59.20" width="8.70" height="2.00" rx="1.00" fill="#000" fill-opacity="0.4" filter="url(#bl)"/>
<rect x="421.40" y="83.20" width="9.60" height="4.60" rx="2.30" fill="#000" fill-opacity="1.0" filter="url(#bl)"/>
<rect x="434.60" y="79.10" width="9.60" height="5.00" rx="2.50" fill="#000" fill-opacity="1.0" filter="url(#bl)"/>
<rect x="446.90" y="78.50" width="9.60" height="5.60" rx="2.80" fill="#000" fill-opacity="1.0" filter="url(#bl)"/>
<rect x="462.60" y="61.40" width="10.50" height="5.00" rx="2.50" fill="#000" fill-opacity="1.0" filter="url(#bl)"/>
<rect x="474.60" y="61.20" width="10.00" height="6.20" rx="3.10" fill="#000" fill-opacity="1.0" filter="url(#bl)"/>
<rect x="486.20" y="57.05" width="8.70" height="3.70" rx="1.85" fill="#000" fill-opacity="1.0" filter="url(#bl)"/>
<rect x="497.70" y="55.95" width="8.90" height="3.90" rx="1.95" fill="#000" fill-opacity="1.0" filter="url(#bl)"/>
<rect x="387.10" y="101.30" width="9.10" height="4.40" rx="2.20" fill="#000" fill-opacity="1.0" filter="url(#bl)"/>
<rect x="398.60" y="101.20" width="9.10" height="4.60" rx="2.30" fill="#000" fill-opacity="1.0" filter="url(#bl)"/>
<rect x="410.10" y="101.00" width="9.70" height="5.00" rx="2.50" fill="#000" fill-opacity="1.0" filter="url(#bl)"/>
<rect x="422.10" y="101.20" width="9.80" height="4.60" rx="2.30" fill="#000" fill-opacity="1.0" filter="url(#bl)"/>
<rect x="434.60" y="101.20" width="9.00" height="4.60" rx="2.30" fill="#000" fill-opacity="1.0" filter="url(#bl)"/>
<rect x="446.60" y="100.90" width="10.20" height="5.20" rx="2.60" fill="#000" fill-opacity="1.0" filter="url(#bl)"/>
<rect x="462.30" y="101.90" width="10.20" height="4.60" rx="2.30" fill="#000" fill-opacity="1.0" filter="url(#bl)"/>
<rect x="474.20" y="101.90" width="10.30" height="4.60" rx="2.30" fill="#000" fill-opacity="1.0" filter="url(#bl)"/>
<rect x="485.50" y="101.90" width="10.30" height="4.60" rx="2.30" fill="#000" fill-opacity="1.0" filter="url(#bl)"/>
<rect x="497.00" y="101.90" width="10.00" height="4.60" rx="2.30" fill="#000" fill-opacity="1.0" filter="url(#bl)"/>
<rect x="375.40" y="118.75" width="9.40" height="3.30" rx="1.65" fill="#000" fill-opacity="1.0" filter="url(#bl)"/>
<rect x="386.80" y="118.75" width="9.40" height="3.30" rx="1.65" fill="#000" fill-opacity="1.0" filter="url(#bl)"/>
<rect x="398.20" y="118.80" width="9.10" height="3.20" rx="1.60" fill="#000" fill-opacity="1.0" filter="url(#bl)"/>
<rect x="410.00" y="119.05" width="8.80" height="2.70" rx="1.35" fill="#000" fill-opacity="1.0" filter="url(#bl)"/>
<rect x="421.80" y="118.90" width="9.40" height="3.00" rx="1.50" fill="#000" fill-opacity="1.0" filter="url(#bl)"/>
<rect x="434.60" y="118.95" width="9.00" height="2.90" rx="1.45" fill="#000" fill-opacity="1.0" filter="url(#bl)"/>
<rect x="447.40" y="118.95" width="9.20" height="2.90" rx="1.45" fill="#000" fill-opacity="1.0" filter="url(#bl)"/>
<rect x="462.30" y="119.15" width="10.20" height="3.30" rx="1.65" fill="#000" fill-opacity="1.0" filter="url(#bl)"/>
<rect x="474.20" y="119.15" width="10.30" height="3.30" rx="1.65" fill="#000" fill-opacity="1.0" filter="url(#bl)"/>
<rect x="485.50" y="119.15" width="10.30" height="3.30" rx="1.65" fill="#000" fill-opacity="1.0" filter="url(#bl)"/>
<rect x="497.00" y="119.15" width="10.00" height="3.30" rx="1.65" fill="#000" fill-opacity="1.0" filter="url(#bl)"/>
<rect x="376.30" y="137.60" width="7.40" height="3.20" rx="1.60" fill="#000" fill-opacity="1.0" filter="url(#bl)"/>
<ellipse cx="403.40" cy="138.60" rx="4.70" ry="4.55" fill="#000" fill-opacity="1.0" filter="url(#bl)"/>
<ellipse cx="415.30" cy="140.00" rx="5.40" ry="5.15" fill="#000" fill-opacity="1.0" filter="url(#bl)"/>
<rect x="421.00" y="166.25" width="10.40" height="5.50" rx="2.75" fill="#000" fill-opacity="1.0" filter="url(#bl)"/>
<rect x="434.80" y="162.50" width="9.10" height="3.60" rx="1.80" fill="#000" fill-opacity="1.0" filter="url(#bl)"/>
<rect x="446.90" y="161.70" width="10.30" height="5.40" rx="2.70" fill="#000" fill-opacity="1.0" filter="url(#bl)"/>
<rect x="462.80" y="144.15" width="7.40" height="3.30" rx="1.65" fill="#000" fill-opacity="1.0" filter="url(#bl)"/>
<ellipse cx="477.70" cy="145.80" rx="4.30" ry="3.80" fill="#000" fill-opacity="1.0" filter="url(#bl)"/>
<rect x="484.60" y="136.90" width="9.00" height="7.00" rx="3.50" fill="#000" fill-opacity="1.0" filter="url(#bl)"/>
<rect x="495.70" y="136.20" width="9.90" height="7.00" rx="3.50" fill="#000" fill-opacity="1.0" filter="url(#bl)"/>
<rect x="398.70" y="182.25" width="9.10" height="5.50" rx="2.75" fill="#000" fill-opacity="1.0" filter="url(#bl)"/>
<ellipse cx="426.85" cy="184.60" rx="5.55" ry="5.00" fill="#000" fill-opacity="1.0" filter="url(#bl)"/>
<rect x="434.30" y="182.20" width="9.10" height="4.60" rx="2.30" fill="#000" fill-opacity="1.0" filter="url(#bl)"/>
<ellipse cx="451.45" cy="184.30" rx="5.45" ry="4.75" fill="#000" fill-opacity="1.0" filter="url(#bl)"/>
<rect x="462.30" y="182.70" width="7.90" height="3.00" rx="1.50" fill="#000" fill-opacity="1.0" filter="url(#bl)"/>
<rect x="474.20" y="182.30" width="7.80" height="3.80" rx="1.90" fill="#000" fill-opacity="1.0" filter="url(#bl)"/>
<rect x="484.60" y="181.50" width="9.40" height="5.00" rx="2.50" fill="#000" fill-opacity="1.0" filter="url(#bl)"/>
<rect x="496.40" y="181.50" width="9.90" height="5.00" rx="2.50" fill="#000" fill-opacity="1.0" filter="url(#bl)"/>
<text x="0" y="0" font-size="8.8" text-anchor="end" fill="#141414" transform="translate(368.70 74.80)" stroke="#141414" stroke-width="0.22" textLength="20.40" lengthAdjust="spacingAndGlyphs">FLAG</text>
<text x="0" y="0" font-size="8.8" text-anchor="end" fill="#141414" transform="translate(368.70 105.90)" stroke="#141414" stroke-width="0.22" textLength="17.70" lengthAdjust="spacingAndGlyphs">MYC</text>
<text x="0" y="0" font-size="8.8" text-anchor="end" fill="#141414" transform="translate(368.70 122.60)" stroke="#141414" stroke-width="0.22" textLength="28.40" lengthAdjust="spacingAndGlyphs">GAPDH</text>
<text x="0" y="0" font-size="8.8" text-anchor="end" fill="#141414" transform="translate(368.50 155.80)" stroke="#141414" stroke-width="0.22" textLength="20.40" lengthAdjust="spacingAndGlyphs">FLAG</text>
<text x="0" y="0" font-size="8.8" text-anchor="end" fill="#141414" transform="translate(368.50 187.00)" stroke="#141414" stroke-width="0.22" textLength="17.70" lengthAdjust="spacingAndGlyphs">MYC</text>
<line x1="334.20" y1="51.30" x2="334.20" y2="125.30" stroke="#111" stroke-width="1.0"/>
<line x1="334.20" y1="131.10" x2="334.20" y2="191.00" stroke="#111" stroke-width="1.0"/>
<text x="0" y="0" font-size="8.8" text-anchor="middle" fill="#141414" transform="translate(329.30 88.40) rotate(-90)" stroke="#141414" stroke-width="0.22" textLength="24.00" lengthAdjust="spacingAndGlyphs">INPUT</text>
<text x="0" y="0" font-size="8.8" text-anchor="middle" fill="#141414" transform="translate(328.80 161.60) rotate(-90)" stroke="#141414" stroke-width="0.22" textLength="32.80" lengthAdjust="spacingAndGlyphs">IP: FLAG</text>
<text x="0" y="0" font-size="13.4" text-anchor="start" fill="#000" transform="translate(298.10 214.40)" font-weight="bold" stroke="#000" stroke-width="0.3">C</text>
<line x1="371.50" y1="221.20" x2="371.50" y2="327.60" stroke="#000" stroke-width="1.05"/>
<line x1="368.30" y1="224.88" x2="371.50" y2="224.88" stroke="#000" stroke-width="1.1"/>
<text x="0" y="0" font-size="9.5" text-anchor="end" fill="#141414" transform="translate(364.90 228.18) scale(0.920 1)" stroke="#141414" stroke-width="0.22">1.2</text>
<line x1="368.30" y1="242.00" x2="371.50" y2="242.00" stroke="#000" stroke-width="1.1"/>
<text x="0" y="0" font-size="9.5" text-anchor="end" fill="#141414" transform="translate(364.90 245.30) scale(0.920 1)" stroke="#141414" stroke-width="0.22">1.0</text>
<line x1="368.30" y1="259.12" x2="371.50" y2="259.12" stroke="#000" stroke-width="1.1"/>
<text x="0" y="0" font-size="9.5" text-anchor="end" fill="#141414" transform="translate(364.90 262.42) scale(0.920 1)" stroke="#141414" stroke-width="0.22">0.8</text>
<line x1="368.30" y1="276.24" x2="371.50" y2="276.24" stroke="#000" stroke-width="1.1"/>
<text x="0" y="0" font-size="9.5" text-anchor="end" fill="#141414" transform="translate(364.90 279.54) scale(0.920 1)" stroke="#141414" stroke-width="0.22">0.6</text>
<line x1="368.30" y1="293.36" x2="371.50" y2="293.36" stroke="#000" stroke-width="1.1"/>
<text x="0" y="0" font-size="9.5" text-anchor="end" fill="#141414" transform="translate(364.90 296.66) scale(0.920 1)" stroke="#141414" stroke-width="0.22">0.4</text>
<line x1="368.30" y1="310.48" x2="371.50" y2="310.48" stroke="#000" stroke-width="1.1"/>
<text x="0" y="0" font-size="9.5" text-anchor="end" fill="#141414" transform="translate(364.90 313.78) scale(0.920 1)" stroke="#141414" stroke-width="0.22">0.2</text>
<line x1="368.30" y1="327.60" x2="371.50" y2="327.60" stroke="#000" stroke-width="1.1"/>
<text x="0" y="0" font-size="9.5" text-anchor="end" fill="#141414" transform="translate(364.90 330.90) scale(0.920 1)" stroke="#141414" stroke-width="0.22">0</text>
<rect x="374.90" y="242.40" width="10.80" height="85.20" fill="#B0B0B0"/>
<line x1="380.50" y1="242.10" x2="380.50" y2="242.40" stroke="#2a2a2a" stroke-width="1.0"/>
<line x1="377.60" y1="242.60" x2="383.40" y2="242.60" stroke="#1a1a1a" stroke-width="1.0"/>
<rect x="392.10" y="279.70" width="10.80" height="47.90" fill="#A50A2F"/>
<line x1="397.50" y1="261.40" x2="397.50" y2="279.70" stroke="#2a2a2a" stroke-width="1.0"/>
<line x1="394.60" y1="261.90" x2="400.40" y2="261.90" stroke="#1a1a1a" stroke-width="1.0"/>
<rect x="409.60" y="301.10" width="10.80" height="26.50" fill="#A50A2F"/>
<line x1="415.50" y1="275.80" x2="415.50" y2="301.10" stroke="#2a2a2a" stroke-width="1.0"/>
<line x1="412.60" y1="276.30" x2="418.40" y2="276.30" stroke="#1a1a1a" stroke-width="1.0"/>
<text x="0" y="0" font-size="8.4" text-anchor="middle" fill="#111" transform="translate(415.50 275.10)" font-weight="bold">*</text>
<rect x="427.10" y="289.10" width="10.80" height="38.50" fill="#A50A2F"/>
<line x1="432.50" y1="260.10" x2="432.50" y2="289.10" stroke="#2a2a2a" stroke-width="1.0"/>
<line x1="429.60" y1="260.60" x2="435.40" y2="260.60" stroke="#1a1a1a" stroke-width="1.0"/>
<rect x="444.60" y="295.30" width="10.80" height="32.30" fill="#A50A2F"/>
<line x1="450.50" y1="275.30" x2="450.50" y2="295.30" stroke="#2a2a2a" stroke-width="1.0"/>
<line x1="447.60" y1="275.80" x2="453.40" y2="275.80" stroke="#1a1a1a" stroke-width="1.0"/>
<text x="0" y="0" font-size="8.4" text-anchor="middle" fill="#111" transform="translate(450.50 274.60)" font-weight="bold">*</text>
<rect x="461.90" y="290.30" width="10.80" height="37.30" fill="#DF8B17"/>
<line x1="467.50" y1="269.50" x2="467.50" y2="290.30" stroke="#2a2a2a" stroke-width="1.0"/>
<line x1="464.60" y1="270.00" x2="470.40" y2="270.00" stroke="#1a1a1a" stroke-width="1.0"/>
<rect x="479.60" y="300.40" width="10.80" height="27.20" fill="#AEBF83"/>
<line x1="485.50" y1="283.90" x2="485.50" y2="300.40" stroke="#2a2a2a" stroke-width="1.0"/>
<line x1="482.60" y1="284.40" x2="488.40" y2="284.40" stroke="#1a1a1a" stroke-width="1.0"/>
<text x="0" y="0" font-size="8.4" text-anchor="middle" fill="#111" transform="translate(485.50 283.20)" font-weight="bold">*</text>
<rect x="496.90" y="285.30" width="10.80" height="42.30" fill="#AEBF83"/>
<line x1="502.50" y1="260.90" x2="502.50" y2="285.30" stroke="#2a2a2a" stroke-width="1.0"/>
<line x1="499.60" y1="261.40" x2="505.40" y2="261.40" stroke="#1a1a1a" stroke-width="1.0"/>
<line x1="368.30" y1="327.60" x2="512.00" y2="327.60" stroke="#000" stroke-width="1.3"/>
<line x1="380.30" y1="327.60" x2="380.30" y2="330.60" stroke="#000" stroke-width="0.9"/>
<text x="0" y="0" font-size="8.8" text-anchor="end" fill="#141414" transform="translate(383.30 334.60) rotate(-90) scale(0.930 1)" stroke="#141414" stroke-width="0.22">WT</text>
<text x="0" y="0" font-size="8.4" text-anchor="middle" fill="#222" transform="translate(380.30 373.90)" stroke="#222" stroke-width="0.15">+</text>
<line x1="397.50" y1="327.60" x2="397.50" y2="330.60" stroke="#000" stroke-width="0.9"/>
<text x="0" y="0" font-size="8.8" text-anchor="end" fill="#141414" transform="translate(400.50 334.60) rotate(-90) scale(0.930 1)" stroke="#141414" stroke-width="0.22">I186fs</text>
<text x="0" y="0" font-size="8.4" text-anchor="middle" fill="#222" transform="translate(397.50 373.90)" stroke="#222" stroke-width="0.15">+</text>
<line x1="415.00" y1="327.60" x2="415.00" y2="330.60" stroke="#000" stroke-width="0.9"/>
<text x="0" y="0" font-size="8.8" text-anchor="end" fill="#141414" transform="translate(418.00 334.60) rotate(-90) scale(0.930 1)" stroke="#141414" stroke-width="0.22">P200fs</text>
<text x="0" y="0" font-size="8.4" text-anchor="middle" fill="#222" transform="translate(415.00 373.90)" stroke="#222" stroke-width="0.15">+</text>
<line x1="432.50" y1="327.60" x2="432.50" y2="330.60" stroke="#000" stroke-width="0.9"/>
<text x="0" y="0" font-size="8.8" text-anchor="end" fill="#141414" transform="translate(435.50 334.60) rotate(-90) scale(0.930 1)" stroke="#141414" stroke-width="0.22">L205fs</text>
<text x="0" y="0" font-size="8.4" text-anchor="middle" fill="#222" transform="translate(432.50 373.90)" stroke="#222" stroke-width="0.15">+</text>
<line x1="450.00" y1="327.60" x2="450.00" y2="330.60" stroke="#000" stroke-width="0.9"/>
<text x="0" y="0" font-size="8.8" text-anchor="end" fill="#141414" transform="translate(453.00 334.60) rotate(-90) scale(0.930 1)" stroke="#141414" stroke-width="0.22">D337fs</text>
<text x="0" y="0" font-size="8.4" text-anchor="middle" fill="#222" transform="translate(450.00 373.90)" stroke="#222" stroke-width="0.15">+</text>
<line x1="467.30" y1="327.60" x2="467.30" y2="330.60" stroke="#000" stroke-width="0.9"/>
<text x="0" y="0" font-size="8.8" text-anchor="end" fill="#141414" transform="translate(470.30 334.60) rotate(-90) scale(0.930 1)" stroke="#141414" stroke-width="0.22">R359X</text>
<text x="0" y="0" font-size="8.4" text-anchor="middle" fill="#222" transform="translate(467.30 373.90)" stroke="#222" stroke-width="0.15">+</text>
<line x1="485.00" y1="327.60" x2="485.00" y2="330.60" stroke="#000" stroke-width="0.9"/>
<text x="0" y="0" font-size="8.8" text-anchor="end" fill="#141414" transform="translate(488.00 334.60) rotate(-90) scale(0.930 1)" stroke="#141414" stroke-width="0.22">R399C</text>
<text x="0" y="0" font-size="8.4" text-anchor="middle" fill="#222" transform="translate(485.00 373.90)" stroke="#222" stroke-width="0.15">+</text>
<line x1="502.30" y1="327.60" x2="502.30" y2="330.60" stroke="#000" stroke-width="0.9"/>
<text x="0" y="0" font-size="8.8" text-anchor="end" fill="#141414" transform="translate(505.30 334.60) rotate(-90) scale(0.930 1)" stroke="#141414" stroke-width="0.22">R433H</text>
<text x="0" y="0" font-size="8.4" text-anchor="middle" fill="#222" transform="translate(502.30 373.90)" stroke="#222" stroke-width="0.15">+</text>
<text x="0" y="0" font-size="9.8" text-anchor="middle" fill="#141414" transform="translate(345.60 275.50) rotate(-90)" stroke="#141414" stroke-width="0.22" textLength="91.00" lengthAdjust="spacingAndGlyphs">Nuclear:cytoplasmic ratio</text>
<text x="0" y="0" font-size="8.6" text-anchor="end" fill="#141414" transform="translate(372.00 351.20)" stroke="#141414" stroke-width="0.22" textLength="45.40" lengthAdjust="spacingAndGlyphs">FLAG-ETV6</text>
<text x="0" y="0" font-size="8.6" text-anchor="end" fill="#141414" transform="translate(372.00 373.10)" stroke="#141414" stroke-width="0.22" textLength="58.60" lengthAdjust="spacingAndGlyphs">MYC-ETV6 WT</text>
<rect x="0" y="0" width="520" height="1.05" fill="#000"/><rect x="0" y="0" width="1.1" height="383" fill="#000"/><rect x="518.5" y="0" width="1.5" height="383" fill="#000"/><rect x="0" y="381.5" width="520" height="1.5" fill="#000"/>
</svg>
</body></html>
